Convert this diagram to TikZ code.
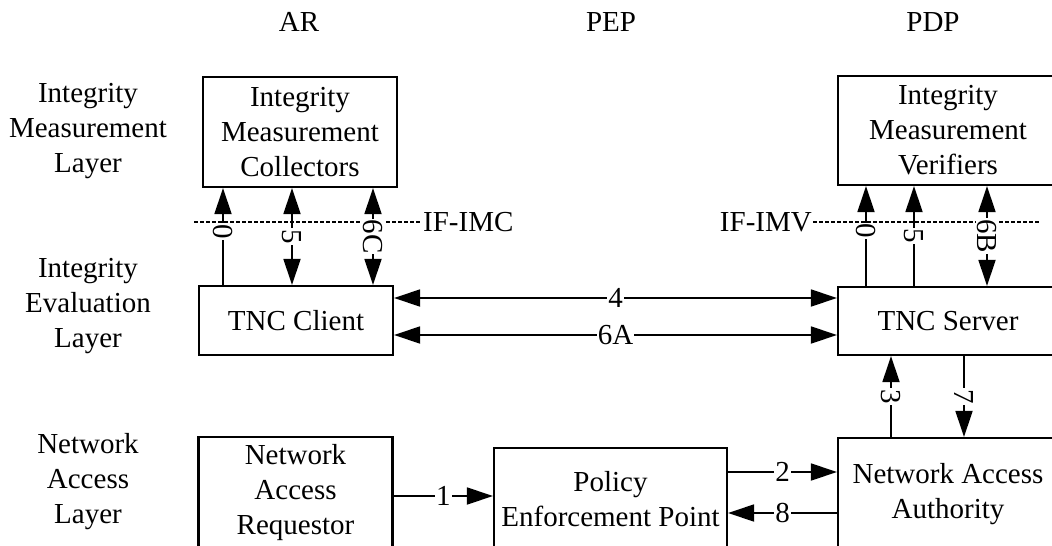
\documentclass[tikz,border=0pt]{standalone}
\usepackage{fontspec}
\setmainfont{Liberation Serif}
\usetikzlibrary{arrows.meta}
\begin{document}
\begin{tikzpicture}[x=1pt,y=-1pt,
  every node/.style={font=\fontsize{29}{35}\selectfont},
  box/.style={draw, line width=2.2pt, inner sep=0pt, align=center},
  conn/.style={line width=1.8pt},
  >={Triangle[length=26pt,width=17pt]},
  lbl/.style={fill=white, inner sep=1pt},
  dotl/.style={line width=1.3pt, dash pattern=on 4pt off 2pt},
  layer/.style={align=center}]
\useasboundingbox (0,0) rectangle (1052,546);
\clip (0,0) rectangle (1052,546);

% column headers
\node[anchor=base] (hAR) at (299,31.5) {AR};
\node[anchor=base] (hPEP) at (611,31.5) {PEP};
\node[anchor=base] (hPDP) at (933,31.5) {PDP};

% layer labels
\node[layer] (lIM) at (88,131.5) {Integrity\\Measurement\\Layer};
\node[layer] (lIE) at (88,306) {Integrity\\Evaluation\\Layer};
\node[layer] (lNA) at (88,482) {Network\\Access\\Layer};

% boxes
\node[box, minimum width=194pt, minimum height=110pt] (imc) at (300,132) {Integrity\\Measurement\\Collectors};
\node[box, minimum width=220pt, minimum height=109pt] (imv) at (948,130.5) {Integrity\\Measurement\\Verifiers};
\node[box, minimum width=194pt, minimum height=69pt] (cli) at (296,320.5) {TNC Client};
\node[box, minimum width=220pt, minimum height=68pt] (srv) at (948,321) {TNC Server};
\node[box, minimum width=194pt, minimum height=112pt] (nar) at (295.5,493) {Network\\Access\\Requestor};
\node[box, minimum width=233pt, minimum height=102pt] (pep) at (610.5,499) {Policy\\Enforcement Point};
\node[box, minimum width=220pt, minimum height=113pt] (naa) at (948,494.5) {Network Access\\Authority};

% interface dotted lines
\node[anchor=west, inner sep=3pt] (ifimc) at (420,222) {IF-IMC};
\coordinate (dimc) at (194,222);
\draw[dotl] (dimc) -- (ifimc.west);
\node[anchor=east, inner sep=1pt] (ifimv) at (813,222) {IF-IMV};
\coordinate (dimv) at (1039,222);
\draw[dotl] (ifimv.east) -- (dimv);

% x positions of vertical connectors
\coordinate (xa) at (223,0);
\coordinate (xb) at (292,0);
\coordinate (xc) at (373,0);
\coordinate (xd) at (866,0);
\coordinate (xe) at (914,0);
\coordinate (xf) at (987,0);
\coordinate (xg) at (891,0);
\coordinate (xh) at (964,0);
% y positions of horizontal connectors
\coordinate (y4) at (0,298);
\coordinate (y6) at (0,335);
\coordinate (y1) at (0,496);
\coordinate (y2) at (0,472);
\coordinate (y8) at (0,513);

% IMC <-> TNC Client
\draw[conn,->] (cli.north -| xa) -- node[lbl, rotate=-90, pos=0.55] {0} (imc.south -| xa);
\draw[conn,<->] (cli.north -| xb) -- node[lbl, rotate=-90] {5} (imc.south -| xb);
\draw[conn,<->] (cli.north -| xc) -- node[lbl, rotate=-90] {6C} (imc.south -| xc);

% IMV <-> TNC Server
\draw[conn,->] (srv.north -| xd) -- node[lbl, rotate=-90, pos=0.55] {0} (imv.south -| xd);
\draw[conn,->] (srv.north -| xe) -- node[lbl, rotate=-90] {5} (imv.south -| xe);
\draw[conn,<->] (srv.north -| xf) -- node[lbl, rotate=-90] {6B} (imv.south -| xf);

% TNC Client <-> TNC Server
\draw[conn,<->] (cli.east |- y4) -- node[lbl] {4} (srv.west |- y4);
\draw[conn,<->] (cli.east |- y6) -- node[lbl] {6A} (srv.west |- y6);

% TNC Server <-> NAA
\draw[conn,->] (naa.north -| xg) -- node[lbl, rotate=-90] {3} (srv.south -| xg);
\draw[conn,->] (srv.south -| xh) -- node[lbl, rotate=-90] {7} (naa.north -| xh);

% network access layer
\draw[conn,->] (nar.east |- y1) -- node[lbl] {1} (pep.west |- y1);
\draw[conn,->] (pep.east |- y2) -- node[lbl] {2} (naa.west |- y2);
\draw[conn,->] (naa.west |- y8) -- node[lbl] {8} (pep.east |- y8);
\end{tikzpicture}
\end{document}
